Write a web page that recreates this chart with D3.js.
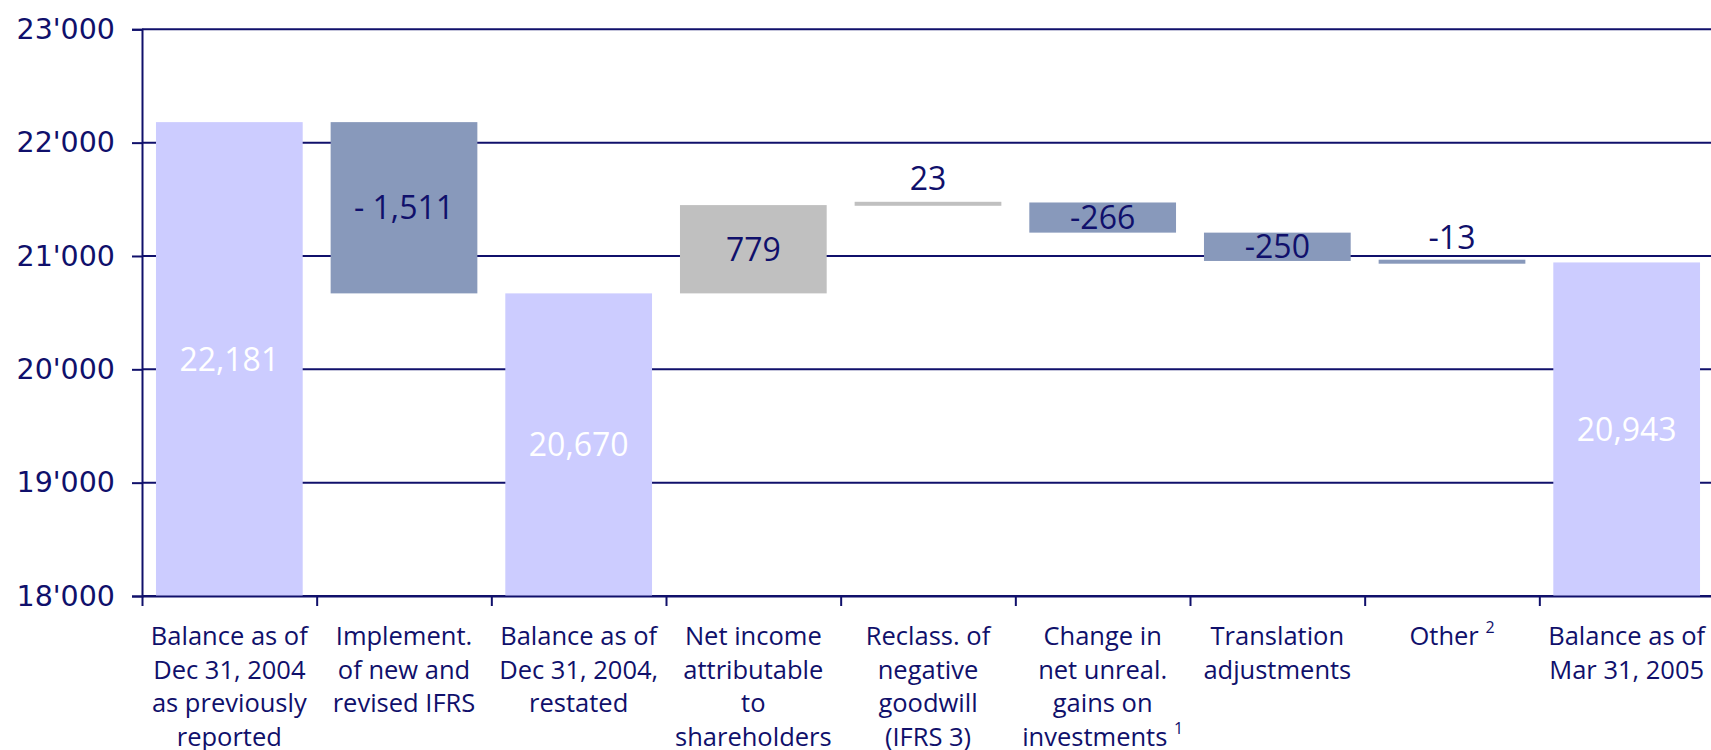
<!DOCTYPE html>
<html>
<head>
<meta charset="utf-8">
<script src="https://cdn.jsdelivr.net/npm/d3@7"></script>
<style>
  body { margin: 0; background: #fff; }
  svg { display: block; }
</style>
</head>
<body>
<figure id="bar" style="margin:0"></figure>
<script>
// category labels, one entry per line
const categories = [
  ['Balance as of', 'Dec 31, 2004', 'as previously', 'reported'],
  ['Implement.', 'of new and', 'revised IFRS'],
  ['Balance as of', 'Dec 31, 2004,', 'restated'],
  ['Net income', 'attributable', 'to', 'shareholders'],
  ['Reclass. of', 'negative', 'goodwill', '(IFRS 3)'],
  ['Change in', 'net unreal.', 'gains on', 'investments'],
  ['Translation', 'adjustments'],
  ['Other'],
  ['Balance as of', 'Mar 31, 2005'],
];
const footnotes = [null, null, null, null, null, '1', null, '2', null];
const values = [22181, -1511, 20670, 779, 23, -266, -250, -13, 20943];
const kinds = ['total', 'delta', 'total', 'delta', 'delta', 'delta', 'delta', 'delta', 'total'];
const valueLabels = ['22,181', '- 1,511', '20,670', '779', '23', '-266', '-250', '-13', '20,943'];
const yTicks = [18000, 19000, 20000, 21000, 22000, 23000];

const navy = '#10106b';
const colors = { total: '#ccccff', up: '#c0c0c0', down: '#8899bb' };

const W = 1711, H = 750;
const margin = { top: 29.3, right: -3, bottom: 154, left: 142 };
const width = W - margin.left - margin.right;
const height = H - margin.top - margin.bottom;

const svg = d3.select('figure#bar')
  .append('svg')
  .attr('width', W)
  .attr('height', H)
  .append('g')
  .attr('transform', 'translate(' + margin.left + ',' + margin.top + ')');

// waterfall steps
let running = 0;
const data = values.map((v, i) => {
  let start, end;
  if (kinds[i] === 'total') {
    start = yTicks[0];
    end = v;
    running = v;
  } else {
    start = running;
    end = running + v;
    running = end;
  }
  const kind = kinds[i] === 'total' ? 'total' : (v >= 0 ? 'up' : 'down');
  return { i, start, end, kind, label: valueLabels[i] };
});

const x = d3.scaleBand()
  .domain(d3.range(categories.length))
  .range([0, width])
  .paddingInner(0.16)
  .paddingOuter(0.08);

const xEdge = d3.scaleLinear()
  .domain([0, categories.length])
  .range([0, width]);

const y = d3.scaleLinear()
  .domain([yTicks[0], yTicks[yTicks.length - 1]])
  .range([height, 0]);

// gridlines
svg.append('g')
  .selectAll('line')
  .data(yTicks)
  .enter()
  .append('line')
  .attr('x1', 0)
  .attr('x2', W - margin.left)
  .attr('y1', (d) => y(d))
  .attr('y2', (d) => y(d))
  .attr('stroke', navy)
  .attr('stroke-width', 2);

// y axis
const yAxis = svg.append('g')
  .call(d3.axisLeft(y)
    .tickValues(yTicks)
    .tickSize(10)
    .tickPadding(17)
    .tickFormat((d) => d3.format(',')(d).replace(',', "'")));
yAxis.select('.domain').attr('stroke', navy).attr('stroke-width', 2);
yAxis.selectAll('.tick line').attr('stroke', navy).attr('stroke-width', 2);
yAxis.selectAll('text')
  .attr('fill', navy)
  .style('font-family', 'DejaVu Sans')
  .style('font-size', '28.5px');

// bars
const minH = 4;
svg.selectAll('rect.bar')
  .data(data)
  .enter()
  .append('rect')
  .attr('class', 'bar')
  .attr('x', (d) => x(d.i))
  .attr('width', x.bandwidth())
  .attr('y', (d) => {
    const top = y(Math.max(d.start, d.end));
    const h = Math.abs(y(d.start) - y(d.end));
    return h < minH ? top + h / 2 - minH / 2 : top;
  })
  .attr('height', (d) => Math.max(minH, Math.abs(y(d.start) - y(d.end))))
  .attr('fill', (d) => colors[d.kind]);

// x axis with ticks on category boundaries
const xAxis = svg.append('g')
  .attr('transform', 'translate(0,' + height + ')')
  .call(d3.axisBottom(xEdge)
    .tickValues(d3.range(categories.length + 1))
    .tickSize(10)
    .tickSizeOuter(0)
    .tickFormat(''));
xAxis.select('.domain').attr('stroke', navy).attr('stroke-width', 2);
xAxis.selectAll('.tick line').attr('stroke', navy).attr('stroke-width', 2);

// value labels
svg.selectAll('text.value')
  .data(data)
  .enter()
  .append('text')
  .attr('class', 'value')
  .attr('x', (d) => x(d.i) + x.bandwidth() / 2)
  .attr('y', (d) => {
    const h = Math.abs(y(d.start) - y(d.end));
    if (h < 20) return y(Math.max(d.start, d.end)) - 12;
    return (y(d.start) + y(d.end)) / 2;
  })
  .attr('dy', (d) => (Math.abs(y(d.start) - y(d.end)) < 20 ? 0 : '0.36em'))
  .attr('text-anchor', 'middle')
  .attr('fill', (d) => (d.kind === 'total' ? '#ffffff' : navy))
  .style('font-family', 'Open Sans')
  .style('font-size', '32px')
  .text((d) => d.label);

// category labels
const catText = svg.selectAll('text.cat')
  .data(categories)
  .enter()
  .append('text')
  .attr('class', 'cat')
  .attr('text-anchor', 'middle')
  .attr('fill', navy)
  .style('font-family', 'Open Sans')
  .style('font-size', '25.5px');

catText.each(function (lines, i) {
  const t = d3.select(this);
  const cx = x(i) + x.bandwidth() / 2;
  lines.forEach((line, j) => {
    const span = t.append('tspan')
      .attr('x', cx)
      .attr('y', height + 49 + j * 33.6)
      .text(line);
    if (j === lines.length - 1 && footnotes[i]) {
      span.text(line + ' ');
      t.append('tspan')
        .attr('dy', -12)
        .style('font-size', '16px')
        .text(footnotes[i]);
    }
  });
});
</script>
</body>
</html>
